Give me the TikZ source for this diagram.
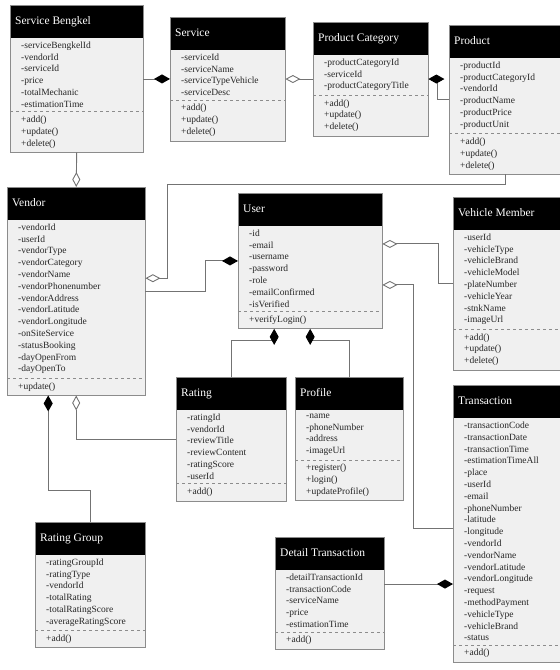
\documentclass[tikz,border=0pt]{standalone}
\usepackage{fontspec}
\setmainfont{Liberation Serif}
\usepackage{tikz}
\usetikzlibrary{positioning,arrows.meta,calc,shapes.multipart}
\usepackage{xcolor}
\hyphenpenalty=10000
\exhyphenpenalty=10000
\newcommand{\ttl}[1]{\hspace*{-6pt}\textcolor{white}{\fontsize{11.5}{12}\selectfont\rule[-9pt]{0pt}{24pt}#1}}

\begin{document}
\begin{tikzpicture}[x=1pt,y=-1pt]
\tikzset{
  cls/.style={rectangle split,rectangle split parts=3,rectangle split draw splits=false,
    rectangle split part fill={black,black!6},rectangle split part align=left,
    draw=black!45,anchor=north west,align=left,inner xsep=11pt,inner ysep=4pt,
    font=\fontsize{9.5}{11.8}\selectfont,text=black!85},
  sep/.style={draw=black!45,dashed,line width=0.5pt},
  line/.style={draw=black!55,line width=0.9pt},
  comp/.style={line,-{Diamond[length=16pt,width=9pt,color=black]}},
  aggr/.style={line,-{Diamond[open,length=15pt,width=8pt,color=black!55]}}
}
\useasboundingbox (0,0) rectangle (560,670);

% top row
\node[cls,minimum width=133pt] (bengkel) at (10,5) {\ttl{Service Bengkel}
  \nodepart{two}-serviceBengkelId\\-vendorId\\-serviceId\\-price\\-totalMechanic\\-estimationTime
  \nodepart{three}+add()\\+update()\\+delete()};
\node[cls,minimum width=115pt] (service) at (170,17) {\ttl{Service}
  \nodepart{two}-serviceId\\-serviceName\\-serviceTypeVehicle\\-serviceDesc
  \nodepart{three}+add()\\+update()\\+delete()};
\node[cls,minimum width=115pt] (pcat) at (313,22) {\ttl{Product Category}
  \nodepart{two}-productCategoryId\\-serviceId\\-productCategoryTitle
  \nodepart{three}+add()\\+update()\\+delete()};
\node[cls,minimum width=112pt] (product) at (449,25) {\ttl{Product}
  \nodepart{two}-productId\\-productCategoryId\\-vendorId\\-productName\\-productPrice\\-productUnit
  \nodepart{three}+add()\\+update()\\+delete()};

% middle row
\node[cls,minimum width=138pt] (vendor) at (7,187) {\ttl{Vendor}
  \nodepart{two}-vendorId\\-userId\\-vendorType\\-vendorCategory\\-vendorName\\-vendorPhonenumber\\-vendorAddress\\-vendorLatitude\\-vendorLongitude\\-onSiteService\\-statusBooking\\-dayOpenFrom\\-dayOpenTo
  \nodepart{three}+update()};
\node[cls,minimum width=144pt] (user) at (238,193) {\ttl{User}
  \nodepart{two}-id\\-email\\-username\\-password\\-role\\-emailConfirmed\\-isVerified
  \nodepart{three}+verifyLogin()};
\node[cls,minimum width=109pt] (vmember) at (453,197) {\ttl{Vehicle Member}
  \nodepart{two}-userId\\-vehicleType\\-vehicleBrand\\-vehicleModel\\-plateNumber\\-vehicleYear\\-stnkName\\-imageUrl
  \nodepart{three}+add()\\+update()\\+delete()};

% lower part
\node[cls,minimum width=110pt] (rating) at (176,377) {\ttl{Rating}
  \nodepart{two}-ratingId\\-vendorId\\-reviewTitle\\-reviewContent\\-ratingScore\\-userId
  \nodepart{three}+add()};
\node[cls,minimum width=108pt] (profile) at (295,377) {\ttl{Profile}
  \nodepart{two}-name\\-phoneNumber\\-address\\-imageUrl
  \nodepart{three}+register()\\+login()\\+updateProfile()};
\node[cls,minimum width=109pt] (transaction) at (453,385) {\ttl{Transaction}
  \nodepart{two}-transactionCode\\-transactionDate\\-transactionTime\\-estimationTimeAll\\-place\\-userId\\-email\\-phoneNumber\\-latitude\\-longitude\\-vendorId\\-vendorName\\-vendorLatitude\\-vendorLongitude\\-request\\-methodPayment\\-vehicleType\\-vehicleBrand\\-status
  \nodepart{three}+add()};
\node[cls,minimum width=109pt] (dtrans) at (275,537) {\ttl{Detail Transaction}
  \nodepart{two}-detailTransactionId\\-transactionCode\\-serviceName\\-price\\-estimationTime
  \nodepart{three}+add()};
\node[cls,minimum width=110pt] (rgroup) at (35,522) {\ttl{Rating Group}
  \nodepart{two}-ratingGroupId\\-ratingType\\-vendorId\\-totalRating\\-totalRatingScore\\-averageRatingScore
  \nodepart{three}+add()};

% dashed separators
\foreach \c in {bengkel,service,pcat,product,vendor,user,vmember,rating,profile,transaction,dtrans,rgroup}
  \draw[sep] (\c.two split west) -- (\c.two split east);

% connectors
\draw[comp] (bengkel.east |- service.west) -- (service.west);
\draw[aggr] (pcat.west) -- (service.east |- pcat.west);
\draw[comp] (product.west) -- ++(-12,0) |- (pcat.east);
\draw[aggr] (bengkel.south) -- (vendor.north);
\draw[aggr] (product.south) -- ++(0,10) -| ($(vendor.east)+(22,-13)$) -- ($(vendor.east)+(0,-13)$);
\draw[comp] (vendor.east) -- ++(60,0) |- (user.west);
\draw[aggr] (vmember.west) -- ++(-15,0) |- ($(user.east)+(0,-17)$);
\draw[aggr] ($(transaction.west)+(0,5)$) -- ++(-40,0) |- ($(user.east)+(0,24)$);
\draw[comp] (rating.north) -- ++(0,-37) -| ($(user.south)+(-36,0)$);
\draw[comp] (profile.north) -- ++(0,-37) -| (user.south);
\draw[aggr] (rating.west) -| (vendor.south);
\draw[comp] (rgroup.north) -- ++(0,-32) -| ($(vendor.south)+(-28,0)$);
\draw[comp] ($(dtrans.east)+(0,-9)$) -- ($(transaction.west |- dtrans.east)+(0,-9)$);
\end{tikzpicture}
\end{document}
